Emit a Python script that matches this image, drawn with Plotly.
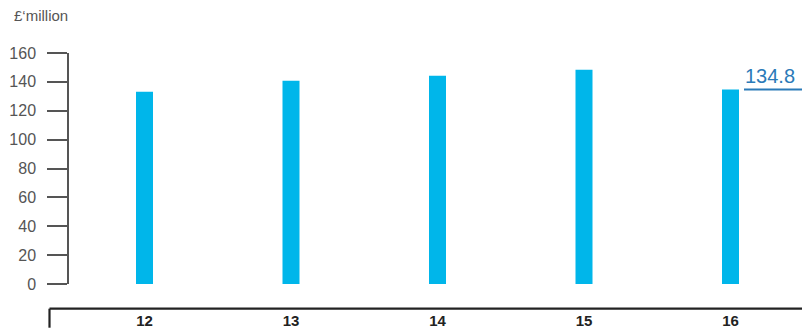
import plotly.graph_objects as go

# Annual figures, £'million
years = ["12", "13", "14", "15", "16"]
values = [133.1, 140.8, 144.2, 148.4, 134.8]
highlight_label = "134.8"
y_ticks = [0, 20, 40, 60, 80, 100, 120, 140, 160]

W, H = 802, 329
L, T, B, R = 69, 53, 45, 0
plot_w = W - L - R
plot_h = H - T - B
slot = 146.5  # px per category
x_lo = -(144.5 - L) / slot
x_hi = x_lo + plot_w / slot

bar_color = "#00b6ea"
label_color = "#2a7ab8"

fig = go.Figure(
    go.Bar(
        x=list(range(len(years))),
        y=values,
        width=17 / slot,
        marker=dict(color=bar_color, line=dict(width=0)),
        hoverinfo="skip",
    )
)

fig.update_layout(
    width=W,
    height=H,
    margin=dict(l=L, r=R, t=T, b=B, pad=0),
    paper_bgcolor="white",
    plot_bgcolor="white",
    showlegend=False,
    font=dict(family="Liberation Sans, Arial, sans-serif", color="#555555"),
)

fig.update_xaxes(
    range=[x_lo, x_hi],
    tickmode="array",
    tickvals=list(range(len(years))),
    ticktext=years,
    showline=False,
    showgrid=False,
    zeroline=False,
    ticks="",
    ticklabelstandoff=26,
    tickfont=dict(size=15, color="#222222", weight="bold"),
)

fig.update_yaxes(
    range=[0, 160],
    tickmode="array",
    tickvals=y_ticks,
    showline=True,
    linecolor="#555555",
    linewidth=1.5,
    ticks="outside",
    ticklen=20,
    tickwidth=1.5,
    tickcolor="#555555",
    showgrid=False,
    zeroline=False,
    ticklabelstandoff=8,
    tickfont=dict(size=16, color="#555555"),
)

# Bottom baseline with a short left-hand bracket
y_base = -(308.7 - (H - B)) / plot_h
x_left = (49.5 - L) / plot_w
fig.add_shape(type="line", xref="paper", yref="paper",
              x0=x_left, x1=1.0, y0=y_base, y1=y_base,
              line=dict(color="#222222", width=2.2))
fig.add_shape(type="line", xref="paper", yref="paper",
              x0=x_left, x1=x_left, y0=y_base, y1=y_base - 19 / plot_h,
              line=dict(color="#222222", width=2.2))

# Highlighted latest value with underline at its level
last = len(values) - 1
fig.add_shape(type="line", xref="x", yref="y",
              x0=last + 13.5 / slot, x1=x_hi, y0=values[last], y1=values[last],
              line=dict(color=label_color, width=2))
fig.add_annotation(
    x=last + 12 / slot, y=values[last], xref="x", yref="y",
    text=highlight_label, showarrow=False,
    xanchor="left", yanchor="bottom", yshift=0,
    font=dict(size=20, color=label_color),
)

# Unit caption
fig.add_annotation(
    x=(12 - L) / plot_w, y=((H - B) - 16) / plot_h,
    xref="paper", yref="paper", text="£‘million", showarrow=False,
    xanchor="left", yanchor="middle", font=dict(size=15, color="#555555"),
)

fig.write_html("out.html")
